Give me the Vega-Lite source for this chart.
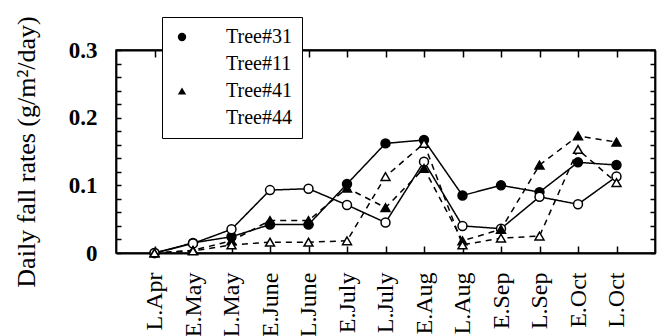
{
  "$schema": "https://vega.github.io/schema/vega-lite/v6.json",
  "width": 539,
  "height": 203,
  "autosize": "none",
  "padding": {"left": 116, "top": 50, "right": 14, "bottom": 83},
  "background": "white",
  "config": {
    "font": "Liberation Serif",
    "view": {"stroke": "black", "strokeWidth": 1.5},
    "axis": {"domainColor": "black", "domainWidth": 1.8, "tickColor": "black", "tickWidth": 1.5, "labelColor": "black", "titleColor": "black", "grid": false}
  },
  "data": {
    "values": [
      {"period": "L.Apr", "tree": "Tree#31", "value": 0},
      {"period": "E.May", "tree": "Tree#31", "value": 0.015},
      {"period": "L.May", "tree": "Tree#31", "value": 0.024},
      {"period": "E.June", "tree": "Tree#31", "value": 0.042},
      {"period": "L.June", "tree": "Tree#31", "value": 0.042},
      {"period": "E.July", "tree": "Tree#31", "value": 0.102},
      {"period": "L.July", "tree": "Tree#31", "value": 0.162},
      {"period": "E.Aug", "tree": "Tree#31", "value": 0.167},
      {"period": "L.Aug", "tree": "Tree#31", "value": 0.085},
      {"period": "E.Sep", "tree": "Tree#31", "value": 0.1},
      {"period": "L.Sep", "tree": "Tree#31", "value": 0.09},
      {"period": "E.Oct", "tree": "Tree#31", "value": 0.134},
      {"period": "L.Oct", "tree": "Tree#31", "value": 0.13},
      {"period": "L.Apr", "tree": "Tree#11", "value": 0},
      {"period": "E.May", "tree": "Tree#11", "value": 0.014},
      {"period": "L.May", "tree": "Tree#11", "value": 0.035},
      {"period": "E.June", "tree": "Tree#11", "value": 0.093},
      {"period": "L.June", "tree": "Tree#11", "value": 0.095},
      {"period": "E.July", "tree": "Tree#11", "value": 0.071},
      {"period": "L.July", "tree": "Tree#11", "value": 0.045},
      {"period": "E.Aug", "tree": "Tree#11", "value": 0.135},
      {"period": "L.Aug", "tree": "Tree#11", "value": 0.04},
      {"period": "E.Sep", "tree": "Tree#11", "value": 0.036},
      {"period": "L.Sep", "tree": "Tree#11", "value": 0.083},
      {"period": "E.Oct", "tree": "Tree#11", "value": 0.072},
      {"period": "L.Oct", "tree": "Tree#11", "value": 0.113},
      {"period": "L.Apr", "tree": "Tree#41", "value": 0},
      {"period": "E.May", "tree": "Tree#41", "value": 0.004},
      {"period": "L.May", "tree": "Tree#41", "value": 0.018},
      {"period": "E.June", "tree": "Tree#41", "value": 0.048},
      {"period": "L.June", "tree": "Tree#41", "value": 0.048},
      {"period": "E.July", "tree": "Tree#41", "value": 0.096},
      {"period": "L.July", "tree": "Tree#41", "value": 0.067},
      {"period": "E.Aug", "tree": "Tree#41", "value": 0.125},
      {"period": "L.Aug", "tree": "Tree#41", "value": 0.018},
      {"period": "E.Sep", "tree": "Tree#41", "value": 0.035},
      {"period": "L.Sep", "tree": "Tree#41", "value": 0.13},
      {"period": "E.Oct", "tree": "Tree#41", "value": 0.173},
      {"period": "L.Oct", "tree": "Tree#41", "value": 0.164},
      {"period": "L.Apr", "tree": "Tree#44", "value": 0},
      {"period": "E.May", "tree": "Tree#44", "value": 0.003},
      {"period": "L.May", "tree": "Tree#44", "value": 0.012},
      {"period": "E.June", "tree": "Tree#44", "value": 0.016},
      {"period": "L.June", "tree": "Tree#44", "value": 0.016},
      {"period": "E.July", "tree": "Tree#44", "value": 0.018},
      {"period": "L.July", "tree": "Tree#44", "value": 0.113},
      {"period": "E.Aug", "tree": "Tree#44", "value": 0.162},
      {"period": "L.Aug", "tree": "Tree#44", "value": 0.012},
      {"period": "E.Sep", "tree": "Tree#44", "value": 0.022},
      {"period": "L.Sep", "tree": "Tree#44", "value": 0.025},
      {"period": "E.Oct", "tree": "Tree#44", "value": 0.153},
      {"period": "L.Oct", "tree": "Tree#44", "value": 0.104}
    ]
  },
  "resolve": {"axis": {"x": "independent", "y": "independent"}},
  "layer": [
    {
      "mark": {"type": "line", "stroke": "black", "strokeWidth": 1.5},
      "encoding": {
        "x": {
          "field": "period", "type": "ordinal", "sort": null,
          "scale": {"type": "point", "padding": 1},
          "axis": {"orient": "bottom", "title": null, "labelAngle": -90, "labelAlign": "right", "labelBaseline": "middle", "labelFontSize": 24, "tickSize": -7, "labelPadding": 26}
        },
        "y": {
          "field": "value", "type": "quantitative",
          "scale": {"domain": [0, 0.3], "nice": false, "zero": true},
          "axis": {
            "orient": "left",
            "title": "Daily fall rates (g/m²/day)",
            "titleFontSize": 26, "titleFontWeight": "normal", "titlePadding": 29,
            "values": [0, 0.02, 0.04, 0.06, 0.08, 0.1, 0.12, 0.14, 0.16, 0.18, 0.2, 0.22, 0.24, 0.26, 0.28, 0.3],
            "labelExpr": "abs(datum.value*10 - round(datum.value*10)) < 0.001 ? format(datum.value, '~g') : ''",
            "labelFontSize": 23, "labelFontWeight": "bold",
            "tickSize": -5, "labelPadding": 24
          }
        },
        "detail": {"field": "tree"},
        "strokeDash": {
          "field": "tree", "type": "nominal",
          "scale": {"domain": ["Tree#41", "Tree#44", "Tree#31", "Tree#11"], "range": [[6, 5], [6, 5], [1, 0], [1, 0]]},
          "legend": null
        }
      }
    },
    {
      "mark": {"type": "point", "filled": false, "stroke": "black", "strokeWidth": 1.5, "size": 80, "opacity": 1},
      "encoding": {
        "x": {
          "field": "period", "type": "ordinal", "sort": null,
          "scale": {"type": "point", "padding": 1},
          "axis": {"orient": "top", "title": null, "labels": false, "tickSize": -7}
        },
        "y": {
          "field": "value", "type": "quantitative",
          "axis": {"orient": "right", "title": null, "labels": false, "tickSize": -5,
            "values": [0, 0.02, 0.04, 0.06, 0.08, 0.1, 0.12, 0.14, 0.16, 0.18, 0.2, 0.22, 0.24, 0.26, 0.28, 0.3]}
        },
        "shape": {
          "field": "tree", "type": "nominal",
          "scale": {"domain": ["Tree#31", "Tree#11", "Tree#41", "Tree#44"], "range": ["circle", "circle", "triangle-up", "triangle-up"]},
          "legend": {
            "title": null, "orient": "none", "legendX": 46, "legendY": -33,
            "labelFontSize": 20, "labelColor": "black", "labelOffset": 34,
            "symbolSize": 70, "symbolStrokeColor": "black", "symbolStrokeWidth": 1.5,
            "rowPadding": 7, "padding": 10,
            "strokeColor": "black", "fillColor": "white"
          }
        },
        "fill": {
          "field": "tree", "type": "nominal",
          "scale": {"domain": ["Tree#31", "Tree#11", "Tree#41", "Tree#44"], "range": ["black", "white", "black", "white"]},
          "legend": {
            "title": null, "orient": "none", "legendX": 46, "legendY": -33,
            "labelFontSize": 20, "labelColor": "black", "labelOffset": 34,
            "symbolSize": 70, "symbolStrokeColor": "black", "symbolStrokeWidth": 1.5,
            "rowPadding": 7, "padding": 10,
            "strokeColor": "black", "fillColor": "white"
          }
        }
      }
    }
  ]
}
